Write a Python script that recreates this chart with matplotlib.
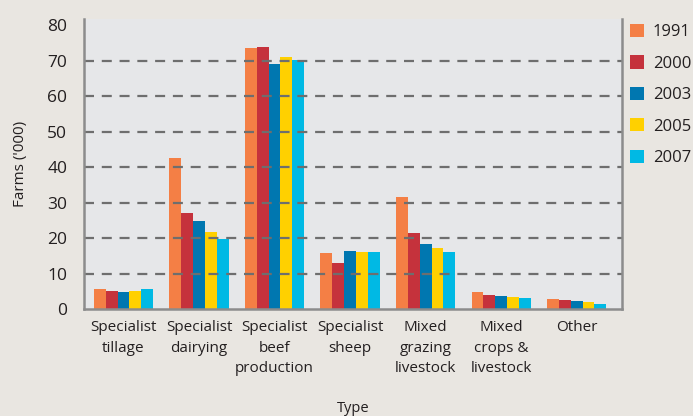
import matplotlib
matplotlib.use("Agg")
import matplotlib.pyplot as plt
import numpy as np

categories = ["Specialist\ntillage", "Specialist\ndairying", "Specialist\nbeef\nproduction",
              "Specialist\nsheep", "Mixed\ngrazing\nlivestock", "Mixed\ncrops &\nlivestock", "Other"]
years = ["1991", "2000", "2003", "2005", "2007"]
v1991 = [5.6, 42.7, 73.7, 15.8, 31.6, 4.8, 2.8]
v2000 = [5.1, 27.1, 74.0, 13.0, 21.5, 4.0, 2.5]
v2003 = [4.8, 24.9, 69.2, 16.4, 18.3, 3.7, 2.3]
v2005 = [5.1, 21.8, 71.2, 16.1, 17.2, 3.4, 2.0]
v2007 = [5.6, 19.8, 70.3, 16.1, 16.1, 3.1, 1.4]
series = [v1991, v2000, v2003, v2005, v2007]
colors = ["#F47F45", "#C5323C", "#0077B0", "#FFD000", "#00B9E4"]
yticks = [0, 10, 20, 30, 40, 50, 60, 70, 80]

plt.rcParams['font.family'] = ['Open Sans', 'DejaVu Sans']
txt = "#231F20"

fig = plt.figure(figsize=(6.93, 4.16), dpi=100)
fig.patch.set_facecolor("#E9E6E1")
ax = fig.add_axes([84/693, 1-309/416, (622-84)/693, (309-19)/416])
ax.set_facecolor("#E6E7E9")

x = np.arange(len(categories))
w = 0.157
for i, (vals, c, yr) in enumerate(zip(series, colors, years)):
    ax.bar(x + (i-2)*w, vals, width=w, color=c, label=yr, zorder=2, linewidth=0)

ax.set_xlim(-0.523, 6.60)
ax.set_ylim(0, 81.8)
ax.set_yticks(yticks)
ax.set_yticklabels([str(t) for t in yticks])
for t in yticks[1:-1]:
    ax.axhline(t, color="#6E6E6E", lw=1.6, dashes=(4.5, 3.5), zorder=3)

ax.set_xticks(x)
ax.set_xticklabels(categories, fontsize=11, color=txt, linespacing=1.5, va="top")
ax.tick_params(axis="x", length=0, pad=8)
ax.tick_params(axis="y", length=0, pad=12, labelsize=12.5, labelcolor=txt)

for s in ["left", "bottom", "right"]:
    ax.spines[s].set_color("#8C8C8C")
    ax.spines[s].set_linewidth(1.8)
    ax.spines[s].set_zorder(4)
ax.spines["top"].set_visible(False)

ax.set_ylabel("Farms ('000)", fontsize=11, color=txt, labelpad=14)
fig.text((84+622)/2/693, 1-408/416, "Type", ha="center", va="center", fontsize=10.5, color=txt)

leg = ax.legend(loc="upper left", bbox_to_anchor=(1.0, 1.012), frameon=False,
                fontsize=12, handlelength=0.85, handleheight=0.85, handletextpad=0.5,
                labelspacing=0.9, borderaxespad=0.1)
for t in leg.get_texts():
    t.set_color(txt)

fig.savefig("out.png", dpi=100, facecolor=fig.get_facecolor())
